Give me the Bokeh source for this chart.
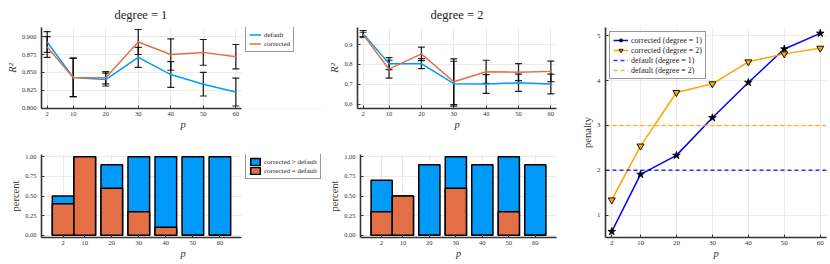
import numpy as np
from bokeh.plotting import figure
from bokeh.models import (ColumnDataSource, Whisker, TeeHead, FixedTicker,
                          PrintfTickFormatter, Legend, LegendItem, Range1d, BoxAnnotation)
from bokeh.layouts import row, column
from bokeh.embed import file_html
from bokeh.resources import INLINE

# ---------------- data ----------------
p_vals = [2, 10, 20, 30, 40, 50, 60]

# R^2, degree = 1
d1_default = [0.8925, 0.843, 0.840, 0.871, 0.847, 0.8335, 0.8225]
d1_default_err = [0.0145, 0.027, 0.009, 0.014, 0.018, 0.0165, 0.0195]
d1_corrected = [0.8855, 0.843, 0.8425, 0.8925, 0.875, 0.878, 0.872]
d1_corrected_err = [0.0145, 0.027, 0.0085, 0.0175, 0.022, 0.018, 0.017]

# R^2, degree = 2
d2_default = [0.955, 0.804, 0.804, 0.703, 0.7015, 0.7075, 0.7015]
d2_default_err = [0.016, 0.030, 0.025, 0.113, 0.047, 0.0435, 0.050]
d2_corrected = [0.950, 0.776, 0.853, 0.713, 0.763, 0.761, 0.765]
d2_corrected_err = [0.012, 0.045, 0.034, 0.115, 0.058, 0.043, 0.052]

# share of runs
d1_greater = [0.5, 1.0, 0.9, 1.0, 1.0, 1.0, 1.0]
d1_equal = [0.4, 1.0, 0.6, 0.3, 0.1, 0.0, 0.0]
d2_greater = [0.7, 0.5, 0.9, 1.0, 0.9, 1.0, 0.9]
d2_equal = [0.3, 0.5, 0.0, 0.6, 0.0, 0.3, 0.0]

# penalty
pen_d1 = [0.637, 1.91, 2.333, 3.17, 3.956, 4.70, 5.05]
pen_d2 = [1.341, 2.541, 3.733, 3.926, 4.415, 4.593, 4.719]
default_penalty = [2, 3]

r2_ticks_d1 = [0.800, 0.825, 0.850, 0.875, 0.900]
r2_ticks_d2 = [0.6, 0.7, 0.8, 0.9]
pct_ticks = [0.0, 0.25, 0.5, 0.75, 1.0]
pen_ticks = [1, 2, 3, 4, 5]

# x range with 3% padding (as in the source)
XPAD = 0.03 * (p_vals[-1] - p_vals[0])
XLO, XHI = p_vals[0] - XPAD, p_vals[-1] + XPAD
BXLO, BXHI = -6, 68

# ---------------- style ----------------
FONT = "Liberation Serif"
BLUE = "#009AFA"
ORANGE = "#E26F46"
AX = "#333333"

TOP_H, BOT_H = 146, 118
TOP_T, TOP_B = 27, 38
BOT_T, BOT_B = 8, 27
TOP_FH = TOP_H - TOP_T - TOP_B
BOT_FH = BOT_H - BOT_T - BOT_B
LEFT_W, MID_W, RIGHT_W = 326, 252, 252
PANEL_W = 200                       # visible plotting width of each small panel
L_LEFT, L_RIGHT = 41, 2
M_LEFT = 30
EXT_W = LEFT_W - L_LEFT - L_RIGHT   # left panels carry their legend inside the frame


def style(p, ylabel, yitalic=False, xticks=p_vals, yticks=None, yfmt=None):
    p.outline_line_color = None
    p.background_fill_color = "white"
    p.border_fill_color = "white"
    for ax in list(p.xaxis) + list(p.yaxis):
        ax.axis_line_color = AX
        ax.axis_line_width = 1.6
        ax.major_tick_in = 3
        ax.major_tick_out = 0
        ax.major_tick_line_color = AX
        ax.minor_tick_line_color = None
        ax.major_label_text_font = FONT
        ax.major_label_text_font_size = "6.5px"
        ax.major_label_text_color = AX
        ax.axis_label_text_font = FONT
        ax.axis_label_text_font_size = "10.5px"
        ax.axis_label_text_color = AX
    p.xaxis.major_label_standoff = 3
    p.xaxis.axis_label_standoff = 0
    p.yaxis.major_label_standoff = 5
    p.yaxis.axis_label_standoff = 1
    p.xaxis.axis_label = "p"
    p.xaxis.axis_label_text_font_style = "italic"
    p.yaxis.axis_label = ylabel
    p.yaxis.axis_label_text_font_style = "italic" if yitalic else "normal"
    p.xaxis.ticker = FixedTicker(ticks=xticks)
    if yticks is not None:
        p.yaxis.ticker = FixedTicker(ticks=yticks)
    if yfmt is not None:
        p.yaxis.formatter = PrintfTickFormatter(format=yfmt)
    p.grid.grid_line_color = "#e6e6e6"
    p.grid.grid_line_width = 0.8


def set_title(p, text, left_aligned_offset=None):
    p.title.text = text
    p.title.text_font = FONT
    p.title.text_font_size = "12.5px"
    p.title.text_font_style = "normal"
    p.title.text_color = "#222222"
    p.title.standoff = 11
    if left_aligned_offset is None:
        p.title.align = "center"
    else:
        p.title.align = "left"
        p.title.offset = left_aligned_offset


def legend_style(lg, size="7px", gw=12):
    lg.border_line_color = AX
    lg.border_line_width = 1.5
    lg.background_fill_color = "white"
    lg.background_fill_alpha = 1
    lg.padding = 3
    lg.spacing = 0
    lg.margin = 0
    lg.glyph_width = gw
    lg.glyph_height = 9
    lg.label_height = 9
    lg.label_standoff = 3
    lg.label_text_font = FONT
    lg.label_text_font_size = size
    lg.label_text_color = "#222222"


def whiskers(p, xs, mean, err):
    m = np.array(mean)
    e = np.array(err)
    src = ColumnDataSource(dict(x=xs, upper=m + e, lower=m - e))
    w = Whisker(source=src, base="x", upper="upper", lower="lower",
                dimension="height", line_color="black", line_width=1.3,
                line_alpha=0.85,
                upper_head=TeeHead(size=7, line_color="black", line_width=1.2, line_alpha=0.85),
                lower_head=TeeHead(size=7, line_color="black", line_width=1.2, line_alpha=0.85))
    p.add_layout(w)


def extended_range(lo, hi, extend):
    """Range whose [lo, hi] fills PANEL_W px; frame is wider by the legend area."""
    if not extend:
        return Range1d(lo, hi)
    return Range1d(lo, lo + (hi - lo) * EXT_W / PANEL_W)


def mask_legend_area(p, x_from):
    p.xaxis.bounds = (p.x_range.start, x_from)
    p.add_layout(BoxAnnotation(left=x_from, fill_color="white", fill_alpha=1,
                               line_alpha=0, level="annotation"))


def r2_plot(width, left, right, title, yrange, dflt, dflt_err, corr, corr_err, yt, fmt,
            extend=False):
    p = figure(width=width, height=TOP_H, output_backend="svg", toolbar_location=None,
               x_range=extended_range(XLO, XHI, extend), y_range=Range1d(*yrange),
               min_border_left=left, min_border_right=right,
               min_border_top=TOP_T, min_border_bottom=TOP_B)
    style(p, "R²", yitalic=True, yticks=yt, yfmt=fmt)
    set_title(p, title, 73 if extend else None)
    rd = p.line(p_vals, dflt, line_color=BLUE, line_width=1.5)
    whiskers(p, p_vals, dflt, dflt_err)
    rc = p.line(p_vals, corr, line_color=ORANGE, line_width=1.5)
    whiskers(p, p_vals, corr, corr_err)
    if extend:
        mask_legend_area(p, XHI)
    return p, rd, rc


def bar_plot(width, left, right, greater, equal, extend=False):
    p = figure(width=width, height=BOT_H, output_backend="svg", toolbar_location=None,
               x_range=extended_range(BXLO, BXHI, extend), y_range=Range1d(-0.03, 1.03),
               min_border_left=left, min_border_right=right,
               min_border_top=BOT_T, min_border_bottom=BOT_B)
    style(p, "percent", yticks=pct_ticks, yfmt="%.2f")
    rg = p.vbar(x=p_vals, top=greater, bottom=0, width=8, fill_color=BLUE,
                line_color="black", line_width=1.5)
    re = p.vbar(x=p_vals, top=equal, bottom=0, width=8, fill_color=ORANGE,
                line_color="black", line_width=1.5)
    if extend:
        mask_legend_area(p, BXHI)
    return p, rg, re


# ---------------- top row ----------------
pA, rdA, rcA = r2_plot(LEFT_W, L_LEFT, L_RIGHT, "degree = 1", (0.7995, 0.9128),
                       d1_default, d1_default_err, d1_corrected, d1_corrected_err,
                       r2_ticks_d1, "%.3f", extend=True)
lgA = Legend(items=[LegendItem(label="default", renderers=[rdA]),
                    LegendItem(label="corrected", renderers=[rcA])],
             location=(PANEL_W + 4, TOP_FH - 25))
legend_style(lgA)
pA.add_layout(lgA)

pB, _, _ = r2_plot(MID_W, M_LEFT, MID_W - M_LEFT - PANEL_W, "degree = 2", (0.578, 0.986),
                   d2_default, d2_default_err, d2_corrected, d2_corrected_err,
                   r2_ticks_d2, "%.1f")

# ---------------- bottom row ----------------
pD, rgD, reD = bar_plot(LEFT_W, L_LEFT, L_RIGHT, d1_greater, d1_equal, extend=True)
lgD = Legend(items=[LegendItem(label="corrected > default", renderers=[rgD]),
                    LegendItem(label="corrected = default", renderers=[reD])],
             location=(PANEL_W + 4, BOT_FH - 25))
legend_style(lgD)
pD.add_layout(lgD)

pE, _, _ = bar_plot(MID_W, M_LEFT, MID_W - M_LEFT - PANEL_W, d2_greater, d2_equal)

# ---------------- penalty ----------------
pC = figure(width=RIGHT_W, height=TOP_H + BOT_H, output_backend="svg", toolbar_location=None,
            x_range=Range1d(XLO, XHI), y_range=Range1d(0.505, 5.18),
            min_border_left=23, min_border_right=4,
            min_border_top=TOP_T, min_border_bottom=BOT_B)
style(pC, "penalty", yticks=pen_ticks, yfmt="%d")
pC.xaxis.major_label_text_font_size = "7px"
pC.yaxis.major_label_text_font_size = "7px"
l1 = pC.line(p_vals, pen_d1, line_color="blue", line_width=1.5)
m1 = pC.scatter(p_vals, pen_d1, marker="star", size=8, fill_color="black",
                line_color="black", line_width=0.8)
l2 = pC.line(p_vals, pen_d2, line_color="orange", line_width=1.5)
m2 = pC.scatter(p_vals, pen_d2, marker="inverted_triangle", size=7,
                fill_color="orange", line_color="black", line_width=0.9)
dash_colors = ["blue", "orange"]
dflt_lines = []
for v, c in zip(default_penalty, dash_colors):
    dflt_lines.append(pC.line(x=[XLO, XHI], y=[v, v], line_color=c,
                              line_dash="4 3", line_width=1.5, line_alpha=0.8))
lgC = Legend(items=[LegendItem(label="corrected (degree = 1)", renderers=[l1, m1]),
                    LegendItem(label="corrected (degree = 2)", renderers=[l2, m2]),
                    LegendItem(label="default (degree = 1)", renderers=[dflt_lines[0]]),
                    LegendItem(label="default (degree = 2)", renderers=[dflt_lines[1]])],
             location="top_left")
legend_style(lgC, size="8px", gw=15)
lgC.glyph_height = 10
lgC.label_height = 10
lgC.margin = 4
pC.add_layout(lgC)

layout = row(column(row(pA, pB), row(pD, pE)), pC)

open("out.html", "w").write(file_html(layout, INLINE))
